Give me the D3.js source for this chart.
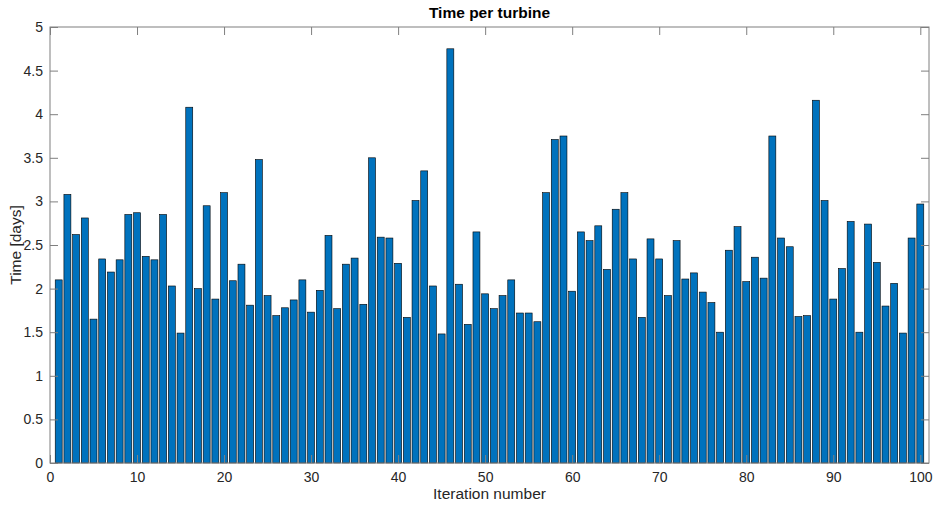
<!DOCTYPE html>
<html>
<head>
<meta charset="utf-8">
<script src="https://cdn.jsdelivr.net/npm/d3@7"></script>
<style>
  html, body { margin: 0; padding: 0; background: #fff; }
  svg { display: block; font-family: "Liberation Sans", Arial, Helvetica, sans-serif; }
</style>
</head>
<body>
<svg id="chart" width="935" height="505"></svg>
<script>
const iterations = d3.range(1, 101);
const timeDays = [
  2.10, 3.08, 2.62, 2.81, 1.65, 2.34, 2.19, 2.33, 2.85, 2.87,
  2.37, 2.33, 2.85, 2.03, 1.49, 4.08, 2.00, 2.95, 1.88, 3.10,
  2.09, 2.28, 1.81, 3.48, 1.92, 1.69, 1.78, 1.87, 2.10, 1.73,
  1.98, 2.61, 1.77, 2.28, 2.35, 1.82, 3.50, 2.59, 2.58, 2.29,
  1.67, 3.01, 3.35, 2.03, 1.48, 4.75, 2.05, 1.59, 2.65, 1.94,
  1.77, 1.92, 2.10, 1.72, 1.72, 1.62, 3.10, 3.71, 3.75, 1.97,
  2.65, 2.55, 2.72, 2.22, 2.91, 3.10, 2.34, 1.67, 2.57, 2.34,
  1.92, 2.55, 2.11, 2.18, 1.96, 1.84, 1.50, 2.44, 2.71, 2.08,
  2.36, 2.12, 3.75, 2.58, 2.48, 1.68, 1.69, 4.16, 3.01, 1.88,
  2.23, 2.77, 1.50, 2.74, 2.30, 1.80, 2.06, 1.49, 2.58, 2.97
];
const xTicks = d3.range(0, 101, 10);
const yTicks = d3.range(0, 5.01, 0.5);
const titleText = "Time per turbine";
const xLabel = "Iteration number";
const yLabel = "Time [days]";

const svg = d3.select("#chart");
const L = 50, R = 929, T = 27, B = 463;
const x = d3.scaleLinear().domain([0, 101]).range([L, R]);
const y = d3.scaleLinear().domain([0, 5]).range([B, T]);
const barW = (x(1) - x(0)) * 0.8;

svg.append("g").selectAll("rect")
  .data(iterations)
  .join("rect")
  .attr("x", (d) => x(d) - barW / 2)
  .attr("y", (d, i) => y(timeDays[i]))
  .attr("width", barW)
  .attr("height", (d, i) => y(0) - y(timeDays[i]))
  .attr("fill", "#0072BD")
  .attr("stroke", "#000")
  .attr("stroke-width", 0.6);

const axisColor = "#7f7f7f";
const textColor = "#262626";
const tl = 8;

function styleAxis(g, hideText) {
  g.select(".domain").remove();
  g.selectAll(".tick line").attr("stroke", axisColor).attr("stroke-width", 1);
  g.selectAll(".tick text").attr("fill", textColor).style("font-size", "14px");
  if (hideText) g.selectAll(".tick text").remove();
}

svg.append("g").attr("transform", `translate(0,${B})`)
  .call(d3.axisBottom(x).tickValues(xTicks).tickSize(-tl).tickPadding(9).tickFormat(d3.format("d")))
  .call((g) => styleAxis(g, false));
svg.append("g").attr("transform", `translate(0,${T})`)
  .call(d3.axisTop(x).tickValues(xTicks).tickSize(-tl))
  .call((g) => styleAxis(g, true));
svg.append("g").attr("transform", `translate(${L},0)`)
  .call(d3.axisLeft(y).tickValues(yTicks).tickSize(-tl).tickPadding(7).tickFormat(d3.format("~g")))
  .call((g) => styleAxis(g, false));
svg.append("g").attr("transform", `translate(${R},0)`)
  .call(d3.axisRight(y).tickValues(yTicks).tickSize(-tl))
  .call((g) => styleAxis(g, true));

svg.append("rect")
  .attr("x", L).attr("y", T).attr("width", R - L).attr("height", B - T)
  .attr("fill", "none").attr("stroke", axisColor).attr("stroke-width", 1);

svg.append("text")
  .attr("x", (L + R) / 2).attr("y", 18)
  .attr("text-anchor", "middle")
  .attr("font-weight", "bold")
  .style("font-size", "15.5px")
  .attr("fill", "#000")
  .text(titleText);

svg.append("text")
  .attr("x", (L + R) / 2).attr("y", 499)
  .attr("text-anchor", "middle")
  .style("font-size", "15.5px")
  .attr("fill", textColor)
  .text(xLabel);

svg.append("text")
  .attr("transform", `translate(21,${(T + B) / 2}) rotate(-90)`)
  .attr("text-anchor", "middle")
  .style("font-size", "15.5px")
  .attr("fill", textColor)
  .text(yLabel);
</script>
</body>
</html>
